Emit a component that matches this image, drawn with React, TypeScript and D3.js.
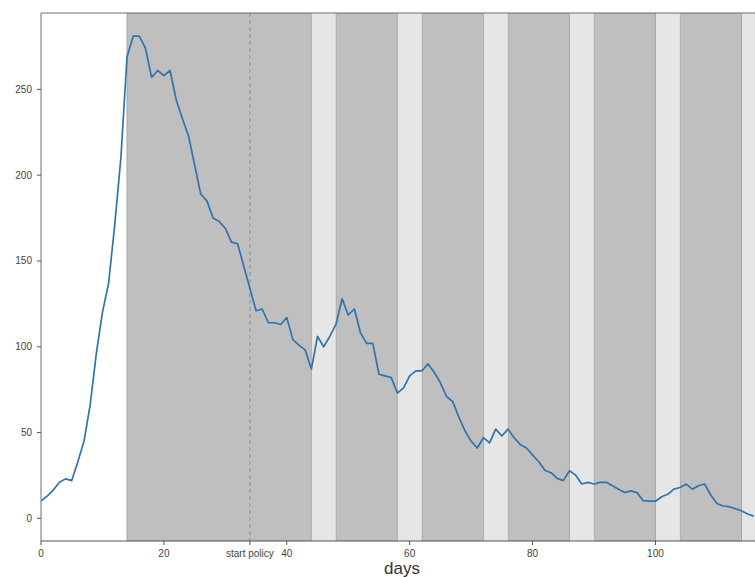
import React from "react";
import * as d3 from "d3";

const cases: number[] = [
  10, 13, 16.5, 21, 23, 22, 33, 45, 66, 96,
  120, 137, 171, 210, 269, 281, 281, 274, 257, 261,
  258, 261, 244, 233, 223, 206, 189, 185, 175, 173,
  169, 161, 160, 147, 134, 121, 122, 114, 114, 113,
  117, 104, 101, 98, 87, 106, 100, 106, 113, 128,
  118.5, 122, 108, 102, 102, 84, 83, 82, 73, 76,
  83, 86, 86, 90, 85, 79, 71, 68, 59, 51,
  45, 41, 47, 44, 52, 48, 52, 47, 43, 41,
  37, 33, 28, 26.6, 23.3, 22, 27.7, 25.2, 20, 21,
  20, 21, 21, 19, 17, 15, 16, 15, 10.3, 10,
  10, 12.6, 14, 17, 18, 20, 17, 19, 20, 13.6,
  8.7, 7.2, 6.8, 5.6, 4.4, 2.5, 1.3,
];

const darkStarts = [14, 48, 62, 76, 90, 104];
const darkEnds = [44, 58, 72, 86, 100, 114];
const lightStarts = [44, 58, 72, 86, 100, 114];
const lightEnds = [48, 62, 76, 90, 104, 118];

const policyDay = 34;
const xTicks = [0, 20, 34, 40, 60, 80, 100];
const xTickLabels = ["0", "20", "start policy", "40", "60", "80", "100"];
const yTicks = [0, 50, 100, 150, 200, 250];

const W = 755;
const H = 577;
const left = 41;
const right = 763;
const top = 13;
const bottom = 541;

export default function App() {
  const x = d3.scaleLinear().domain([0, 117.5]).range([left, right]);
  const y = d3.scaleLinear().domain([-13.2, 294.5]).range([bottom, top]);
  const line = d3
    .line<number>()
    .x((_, i) => x(i))
    .y((d) => y(d));

  const font = "'Liberation Sans', Arial, sans-serif";

  return (
    <svg
      width={W}
      height={H}
      style={{ position: "absolute", left: 0, top: 0, background: "#fff", display: "block" }}
    >
      <defs>
        <clipPath id="plot">
          <rect x={left} y={top} width={right - left} height={bottom - top} />
        </clipPath>
      </defs>
      <g clipPath="url(#plot)">
        {darkStarts.map((s, i) => (
          <rect
            key={"d" + i}
            x={x(s)}
            y={top}
            width={x(darkEnds[i]) - x(s)}
            height={bottom - top}
            fill="#bfbfbf"
            stroke="#a6a6a6"
            strokeWidth={1}
          />
        ))}
        {lightStarts.map((s, i) => (
          <rect
            key={"l" + i}
            x={x(s) + 0.5}
            y={top}
            width={x(lightEnds[i]) - x(s) - 1}
            height={bottom - top}
            fill="#e6e6e6"
          />
        ))}
        <line
          x1={x(policyDay)}
          x2={x(policyDay)}
          y1={top}
          y2={bottom}
          stroke="#9a9a9a"
          strokeWidth={1.3}
          strokeDasharray="4,3"
        />
        <path
          d={line(cases) || ""}
          fill="none"
          stroke="#3273aa"
          strokeWidth={1.7}
          strokeLinejoin="round"
        />
      </g>
      {/* spines */}
      <line x1={left} x2={W} y1={top} y2={top} stroke="#6f6f6f" strokeWidth={1.2} />
      <line x1={left} x2={left} y1={top} y2={bottom} stroke="#858585" strokeWidth={1.2} />
      <line x1={left} x2={W} y1={bottom} y2={bottom} stroke="#555" strokeWidth={1.2} />
      {/* y ticks */}
      {yTicks.map((t) => (
        <g key={"y" + t}>
          <line x1={left - 4} x2={left} y1={y(t)} y2={y(t)} stroke="#555" strokeWidth={1} />
          <text
            x={left - 9}
            y={y(t)}
            dy="0.35em"
            textAnchor="end"
            fontFamily={font}
            fontSize={10}
            fill="#444"
          >
            {t}
          </text>
        </g>
      ))}
      {/* x ticks */}
      {xTicks.map((t, i) => (
        <g key={"x" + t}>
          <line x1={x(t)} x2={x(t)} y1={bottom} y2={bottom + 4} stroke="#555" strokeWidth={1} />
          <text
            x={x(t)}
            y={bottom + 12}
            dy="0.35em"
            textAnchor="middle"
            fontFamily={font}
            fontSize={10}
            fill="#444"
          >
            {xTickLabels[i]}
          </text>
        </g>
      ))}
      <text
        x={(left + right) / 2}
        y={574}
        textAnchor="middle"
        fontFamily={font}
        fontSize={17}
        fill="#333"
      >
        days
      </text>
    </svg>
  );
}
